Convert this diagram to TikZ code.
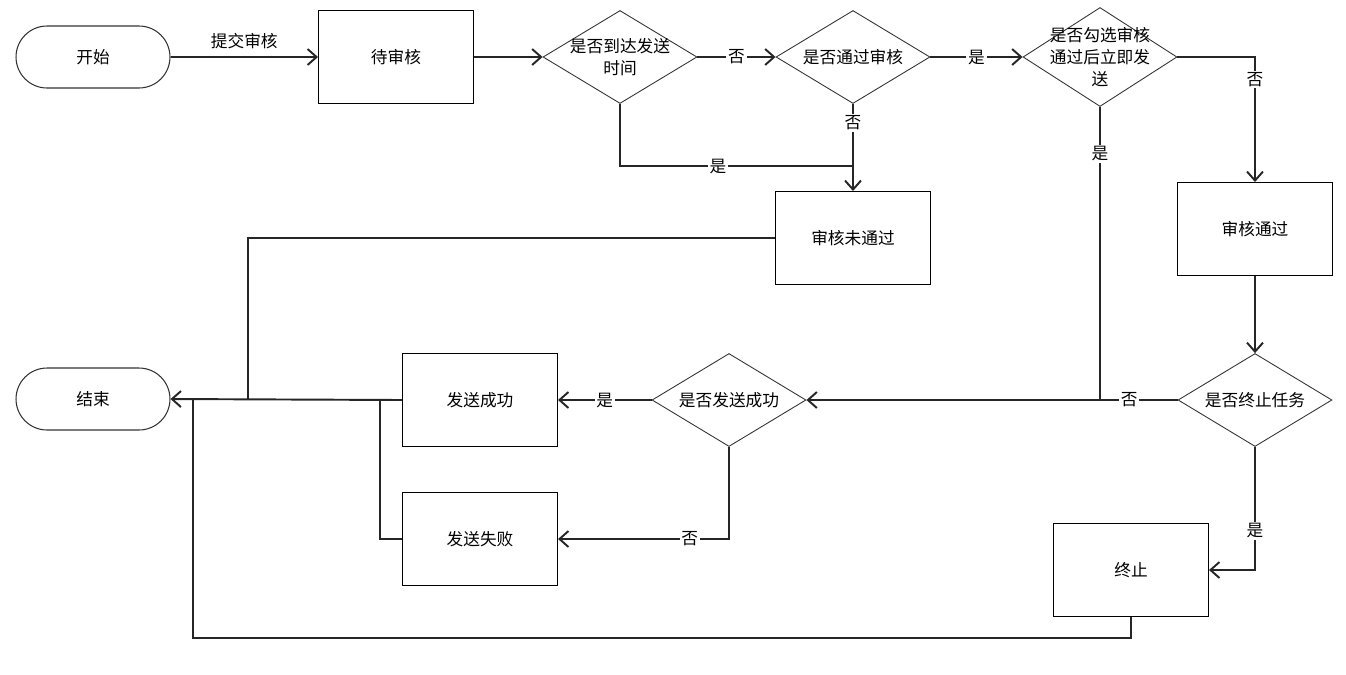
\documentclass[tikz,border=0pt]{standalone}
\usepackage{fontspec}
\newfontfamily\cjk{Noto Sans CJK SC}
\usetikzlibrary{positioning}
\usetikzlibrary{shapes.misc}
\usetikzlibrary{shapes.geometric}
\usetikzlibrary{arrows.meta}

\tikzset{
  box/.style={rectangle, draw=black, line width=0.6pt, minimum width=3.1cm, minimum height=1.86cm, inner sep=0pt},
  term/.style={rounded rectangle, draw=black!80, line width=0.6pt, minimum width=3.08cm, minimum height=1.24cm, inner sep=0pt},
  dec/.style={diamond, draw=black!80, line width=0.5pt, minimum width=3.08cm, minimum height=1.86cm, inner sep=0pt,
    label={[align=center]center:#1}},
  conn/.style={line width=1.1pt, draw=black!85},
  arr/.style={conn, -{Straight Barb[length=1.8mm, width=3.2mm, line width=1.1pt]}},
  lbl/.style={fill=white, inner sep=1pt},
}

\begin{document}
\begin{tikzpicture}[x=0.02cm, y=-0.02cm, every node/.style={font=\cjk\fontsize{9.5}{12.5}\selectfont}]
          \useasboundingbox (0,0) rectangle (1346,674);
          \node[term] (start) at (93,57) {开始};
          \node[box] (pend) at (396,57) {待审核};
          \node[dec={是否到达发送\\时间}] (d1) at (620,57) {};
          \node[dec={是否通过审核}] (d2) at (853,57) {};
          \node[dec={是否勾选审核\\通过后立即发\\送}, minimum height=1.98cm] (d3) at (1100,57) {};
          \node[box] (nf) at (853,238) {审核未通过};
          \node[box] (ok) at (1255,229) {审核通过};
          \node[dec={是否终止任务}] (d4) at (1255,400) {};
          \node[box] (stop) at (1131,570) {终止};
          \node[dec={是否发送成功}] (d5) at (729,400) {};
          \node[box] (succ) at (480,400) {发送成功};
          \node[box] (fail) at (480,539) {发送失败};
          \node[term] (end) at (93,399) {结束};

          \coordinate (j1) at (853,166);
          \coordinate (j2) at (1100,400);
          \coordinate (b1) at (193,638);
          \coordinate (b2) at (193,399);
          \coordinate (b3) at (248,399);
          \coordinate (b4) at (380,399);

          % top row
          \draw[arr] (start) -- node[above=1pt] {提交审核} (pend);
          \draw[arr] (pend) -- (d1);
          \draw[arr] (d1) -- node[lbl] {否} (d2);
          \draw[arr] (d2) -- node[lbl] {是} (d3);
          \draw[arr] (d3.east) -| node[lbl, pos=0.59] {否} (ok.north);
          \draw[conn] (d1.south) |- node[lbl, pos=0.71] {是} (j1);
          \draw[arr] (d2.south) -- node[lbl, pos=0.22] {否} (nf.north);
          \draw[conn] (d3.south) -- node[lbl, pos=0.16] {是} (j2);

          % right column
          \draw[arr] (ok.south) -- (d4.north);
          \draw[arr] (d4.west) -- node[lbl, pos=0.13] {否} (d5.east);
          \draw[arr] (d4.south) |- node[lbl, pos=0.34] {是} (stop.east);

          % bottom row
          \draw[arr] (d5.west) -- node[lbl] {是} (succ.east);
          \draw[arr] (d5.south) |- node[lbl, pos=0.615] {否} (fail.east);
          \draw[arr] (succ.west) -- (end.east);
          \draw[conn] (fail.west) -| (b4);
          \draw[conn] (nf.west) -| (b3);
          \draw[conn] (stop.south) |- (b1) -- (b2);
        \end{tikzpicture}
\end{document}
